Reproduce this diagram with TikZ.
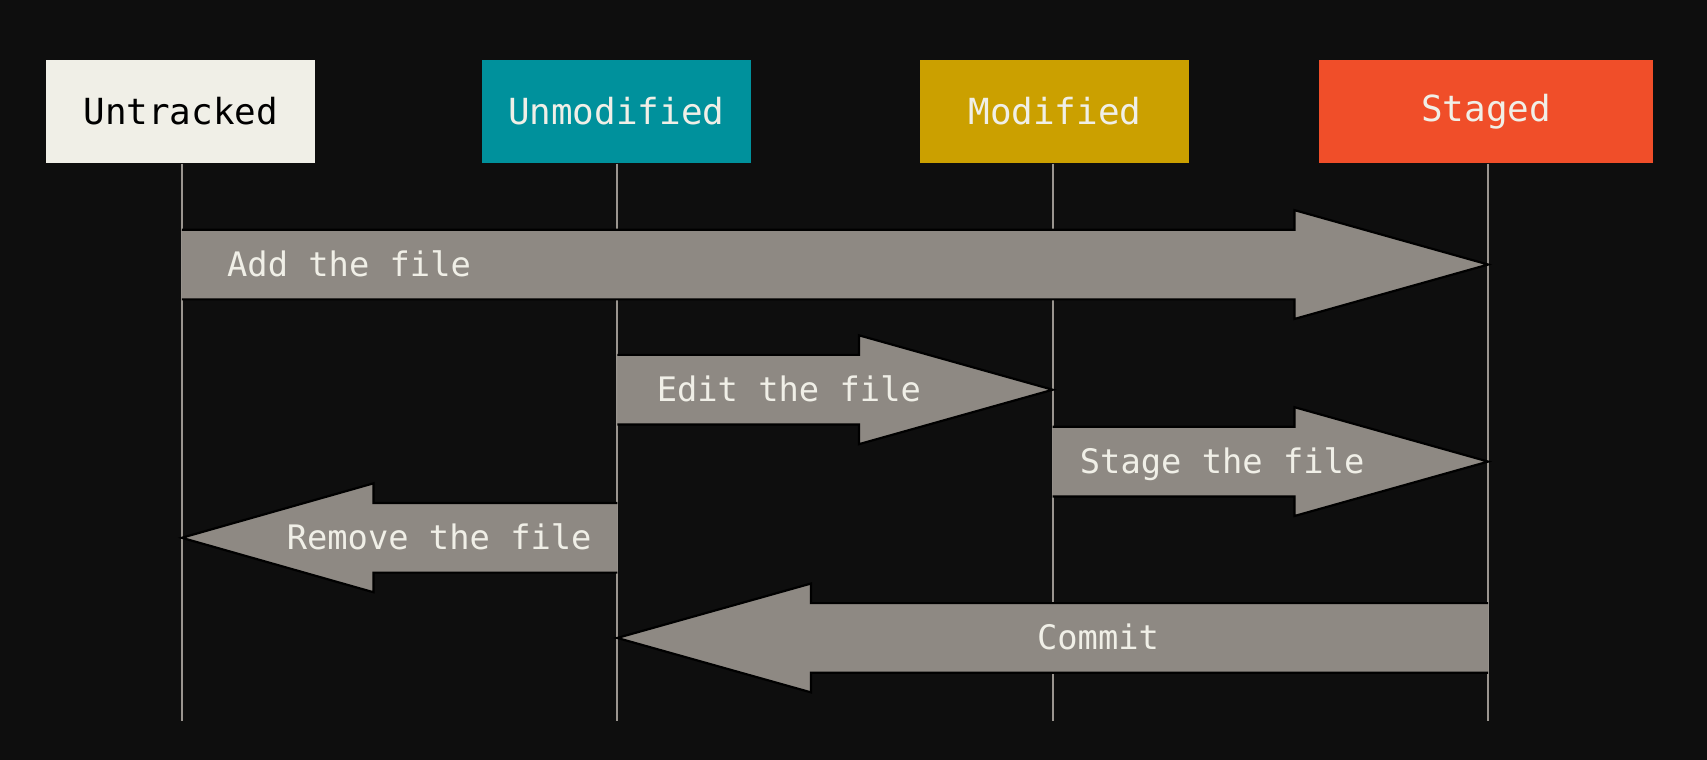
\documentclass[tikz,border=0pt]{standalone}
\usepackage{fontspec}
\setmonofont{DejaVu Sans Mono}
\usetikzlibrary{calc}

\definecolor{bgdark}{HTML}{0E0E0E}
\definecolor{cream}{HTML}{F0EFE7}
\definecolor{gitteal}{HTML}{00919C}
\definecolor{gitgold}{HTML}{CBA000}
\definecolor{gitred}{HTML}{F04E29}
\definecolor{gitgray}{HTML}{8E8983}
\definecolor{gitline}{HTML}{9A958F}

\tikzset{
    statebox/.style={minimum width=247pt, minimum height=95pt, inner sep=0pt,
        text=cream, font=\ttfamily\fontsize{33}{38}\selectfont},
    lifeline/.style={draw=gitline, line width=1.6pt},
    arrowfill/.style={fill=gitgray, draw=black, line width=2pt},
    arrowlabel/.style={text=cream, text height=22pt, text depth=6pt, yshift=-3pt,
        font=\ttfamily\fontsize{31}{36}\selectfont},
}

% #1 from, #2 to, #3 head length (signed), #4 label pos, #5 label
\newcommand{\fatarrow}[5]{
    \filldraw[arrowfill] ($(#1)+(0,-32)$) -- ($(#2)+(#3,-32)$) -- ($(#2)+(#3,-50)$)
        -- (#2) -- ($(#2)+(#3,50)$) -- ($(#2)+(#3,32)$) -- ($(#1)+(0,32)$);
    \path (#1) -- node[pos=#4, arrowlabel] {#5} (#2);
}

\begin{document}
\begin{tikzpicture}[x=1pt, y=-1pt]

    \fill[bgdark] (0,0) rectangle (1568,698);

    \node[statebox, fill=cream, text=black] (untracked) at (166,102.5) {Untracked};
    \node[statebox, fill=gitteal] (unmodified) at (566,102.5) {Unmodified};
    \node[statebox, fill=gitgold] (modified) at (969,102.5) {Modified};
    \node[statebox, fill=gitred, minimum width=306pt] (staged) at (1365,102.5) {Staged};

    \coordinate (bottom) at (0,662);
    \coordinate (add) at (0,243);
    \coordinate (edit) at (0,358);
    \coordinate (stage) at (0,424);
    \coordinate (remove) at (0,494);
    \coordinate (commit) at (0,586);

    % lifelines, a little off the box centres
    \coordinate (l1) at ([xshift=1pt]untracked.south);
    \coordinate (l2) at ([xshift=1pt]unmodified.south);
    \coordinate (l3) at ([xshift=-2pt]modified.south);
    \coordinate (l4) at ([xshift=2pt]staged.south);
    \foreach \s in {l1, l2, l3, l4}
        \draw[lifeline] (\s) -- (\s |- bottom);

    \fatarrow{l1 |- add}{l4 |- add}{-178}{0.128}{Add the file}
    \fatarrow{l2 |- edit}{l3 |- edit}{-178}{0.394}{Edit the file}
    \fatarrow{l3 |- stage}{l4 |- stage}{-178}{0.389}{Stage the file}
    \fatarrow{l2 |- remove}{l1 |- remove}{176}{0.409}{Remove the file}
    \fatarrow{l4 |- commit}{l2 |- commit}{178}{0.448}{Commit}

\end{tikzpicture}
\end{document}
